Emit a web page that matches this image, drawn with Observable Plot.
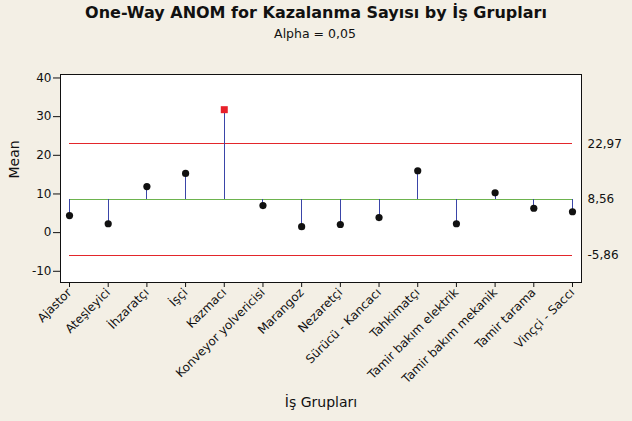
<!DOCTYPE html>
<html>
<head>
<meta charset="utf-8">
<script src="https://cdn.jsdelivr.net/npm/d3@7"></script>
<script src="https://cdn.jsdelivr.net/npm/@observablehq/plot@0.6"></script>
<style>
  html, body { margin: 0; padding: 0; background: #F3EFE5; }
  #wrap { position: relative; width: 632px; height: 421px; overflow: hidden; background: #F3EFE5; font-family: "DejaVu Sans", sans-serif; }
  #title { position: absolute; left: 0; top: 3px; width: 632px; text-align: center; font-size: 16px; line-height: 19px; font-weight: bold; color: #111; }
  #subtitle { position: absolute; left: 0; top: 27px; width: 630px; text-align: center; font-size: 12.5px; line-height: 14px; color: #111; }
  #chart { position: absolute; left: 0; top: 50px; }
</style>
</head>
<body>
<div id="wrap">
  <div id="title">One-Way ANOM for Kazalanma Sayısı by İş Grupları</div>
  <div id="subtitle">Alpha = 0,05</div>
  <div id="chart"></div>
</div>
<script>
const categories = [
  "Ajastor", "Ateşleyici", "İhzaratçı", "İşçi", "Kazmacı",
  "Konveyor yolvericisi", "Marangoz", "Nezaretçi", "Sürücü - Kancacı",
  "Tahkimatçı", "Tamir bakım elektrik", "Tamir bakım mekanik",
  "Tamir tarama", "Vinççi - Saccı"
];
const means = [4.4, 2.3, 11.9, 15.3, 31.8, 7.0, 1.55, 2.1, 3.9, 16.0, 2.3, 10.3, 6.3, 5.4];
const centerLine = 8.56;
const upperLimit = 22.97;
const lowerLimit = -5.86;
const limitValues = [upperLimit, centerLine, lowerLimit];
const limitLabels = ["22,97", "8,56", "-5,86"];
const yTicks = [-10, 0, 10, 20, 30, 40];
const xLabel = "İş Grupları";
const yLabel = "Mean";

const data = categories.map((c, i) => ({cat: c, mean: means[i], out: means[i] > upperLimit || means[i] < lowerLimit}));
const inside = data.filter(d => !d.out);
const outside = data.filter(d => d.out);
const first = categories[0], last = categories[categories.length - 1];

const chart = Plot.plot({
  width: 632,
  height: 371,
  marginLeft: 60,
  marginRight: 51,
  marginTop: 24,
  marginBottom: 139,
  style: {background: "transparent", fontFamily: "DejaVu Sans, sans-serif", fontSize: "12px", color: "#111"},
  x: {type: "point", domain: categories, padding: 0.233, round: false, label: null},
  y: {domain: [-12.9, 40.9], label: null},
  marks: [
    Plot.frame({fill: "white", stroke: "none"}),
    Plot.ruleY([upperLimit, lowerLimit], {y: d => d, x1: () => first, x2: () => last, stroke: "#E3262B", strokeWidth: 1, shapeRendering: "crispEdges"}),
    Plot.ruleY([centerLine], {y: d => d, x1: () => first, x2: () => last, stroke: "#6DB34E", strokeWidth: 1, shapeRendering: "crispEdges"}),
    Plot.ruleX(data, {x: "cat", y1: () => centerLine, y2: "mean", stroke: "#3A45A8", strokeWidth: 1, shapeRendering: "crispEdges"}),
    Plot.dot(inside, {x: "cat", y: "mean", r: 3.6, fill: "#111", stroke: "none"}),
    Plot.dot(outside, {x: "cat", y: "mean", r: 3.95, symbol: "square", fill: "#E8202A", stroke: "none"}),
    Plot.frame({stroke: "#111", strokeWidth: 1, shapeRendering: "crispEdges"}),
    Plot.axisY({ticks: yTicks, tickSize: 7, tickPadding: 2, tickFormat: d => String(d), label: null, fontSize: 12}),
    Plot.axisX({tickSize: 5, tickPadding: 3, tickRotate: -45, label: null, fontSize: 12}),
    Plot.text(limitValues, {y: d => d, text: (d, i) => limitLabels[i], frameAnchor: "right", textAnchor: "start", dx: 6, fontSize: 12}),
    Plot.text([xLabel], {frameAnchor: "bottom", dy: 124, fontSize: 14}),
    Plot.text([yLabel], {frameAnchor: "left", rotate: -90, dx: -46, fontSize: 14})
  ]
});
document.getElementById("chart").appendChild(chart);
</script>
</body>
</html>
